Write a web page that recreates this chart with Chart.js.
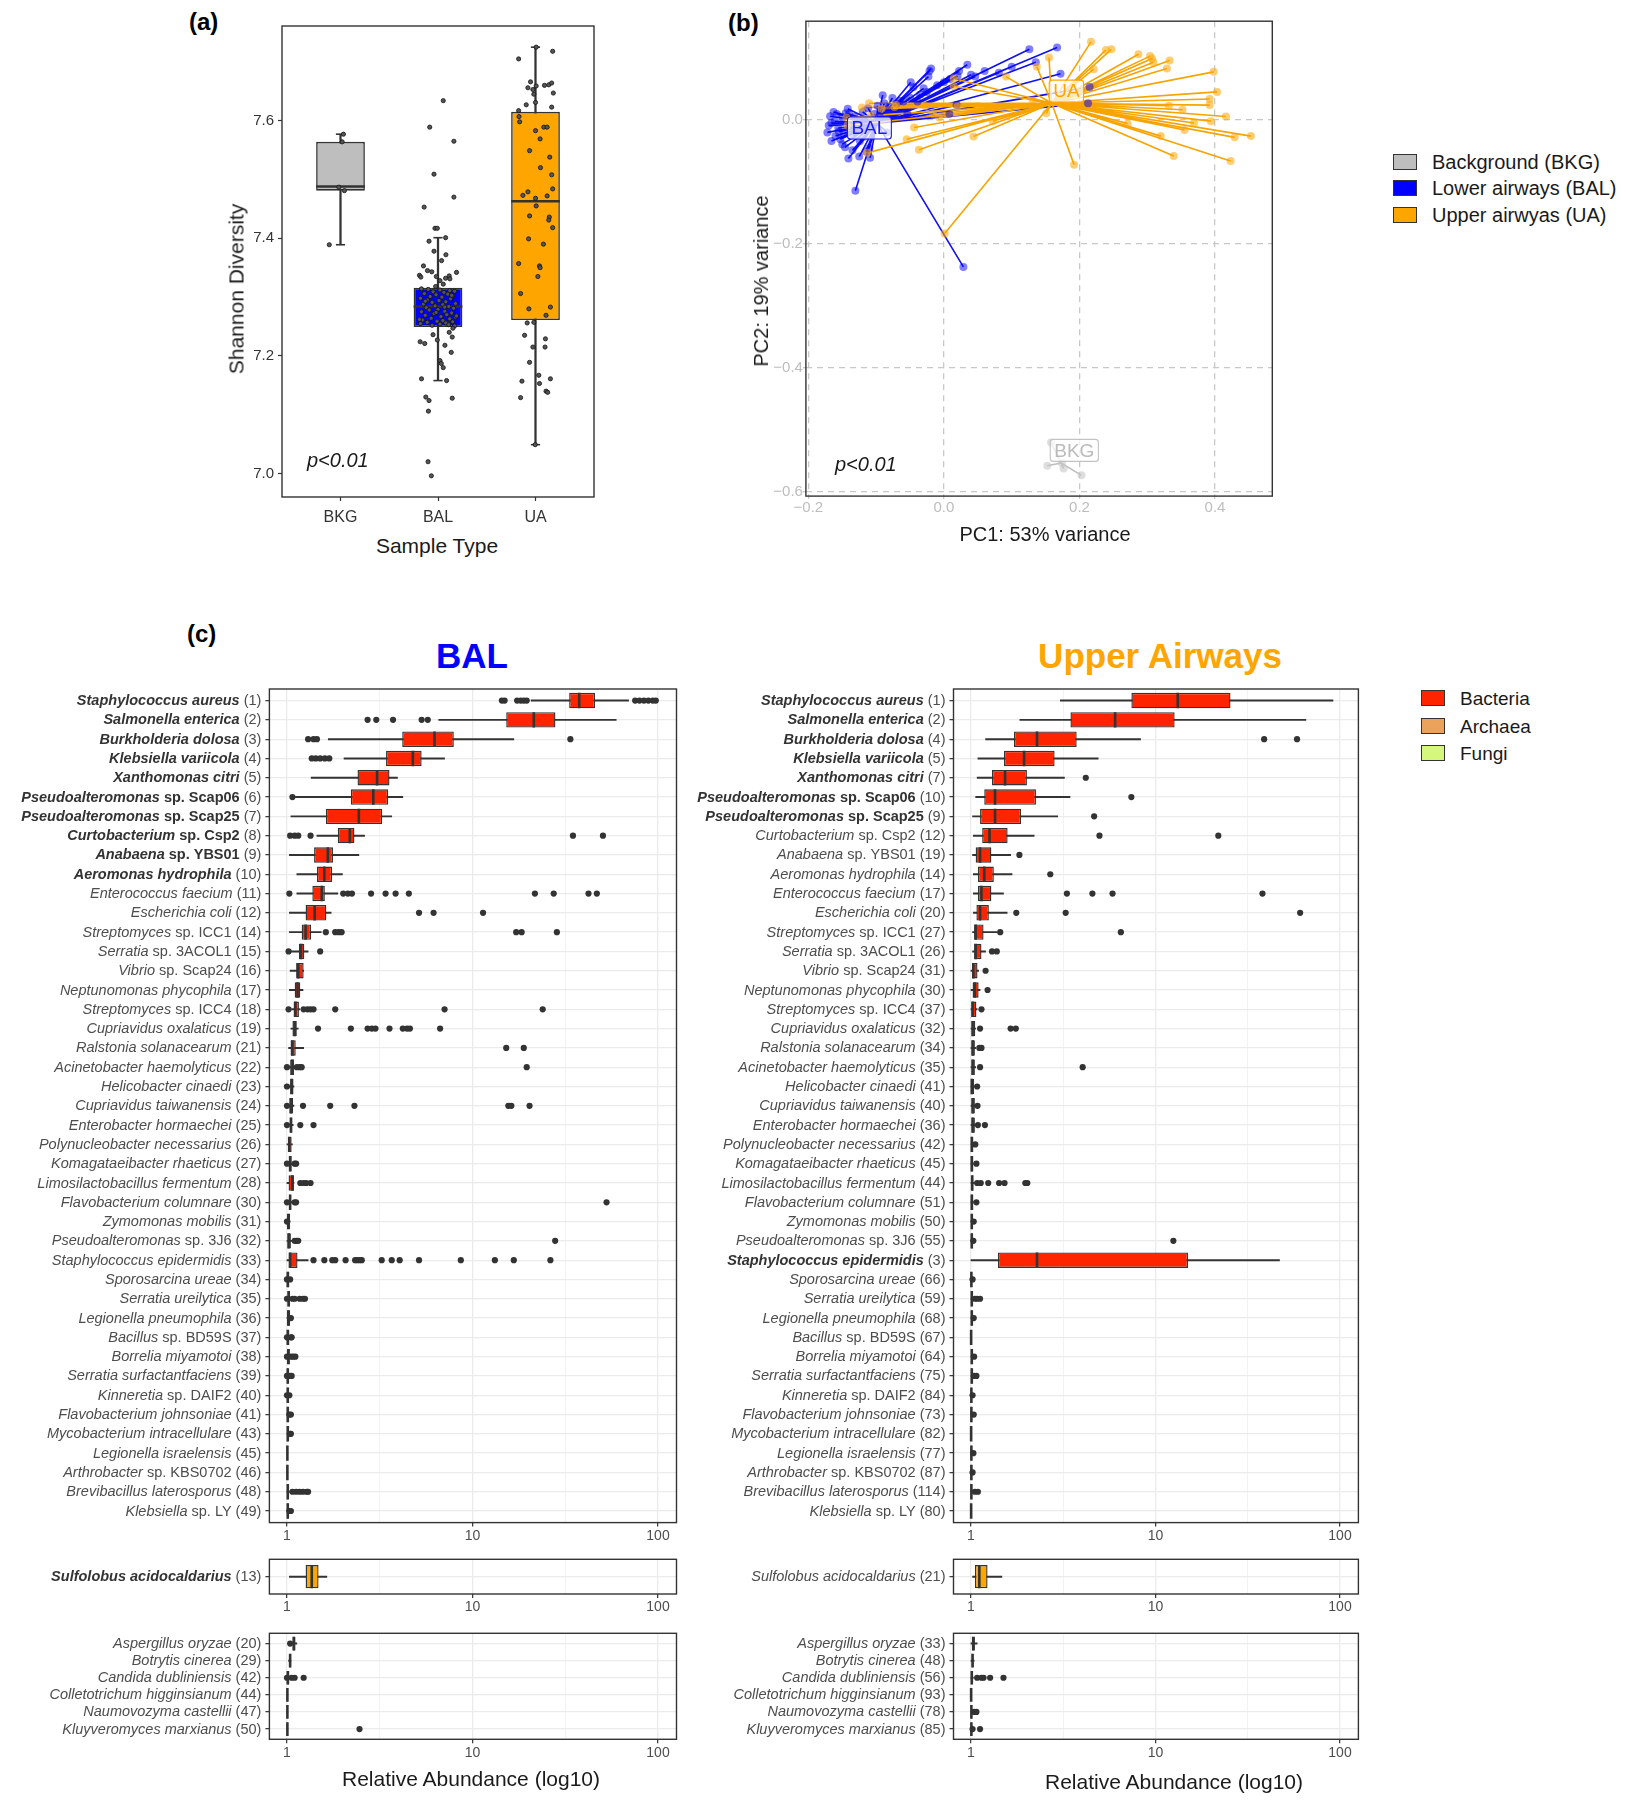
<!DOCTYPE html>
<html><head><meta charset="utf-8">
<script src="https://cdn.jsdelivr.net/npm/chart.js@4.4.1/dist/chart.umd.min.js"></script>
<style>
html,body{margin:0;padding:0;background:#fff;}
#root{position:relative;width:1626px;height:1800px;background:#fff;font-family:"Liberation Sans",Arial,sans-serif;overflow:hidden;}
#root canvas{position:absolute;}
.t{position:absolute;white-space:nowrap;color:#1a1a1a;line-height:1;}
.sq{position:absolute;border:1px solid #333;box-sizing:border-box;}
</style></head>
<body><div id="root"></div>
<script>
// ---------------- DATA ----------------
// Panel (a): Shannon diversity
const groupsA = ['BKG', 'BAL', 'UA'];
const boxA_q1  = [7.481, 7.249, 7.261];
const boxA_med = [7.488, 7.284, 7.463];
const boxA_q3  = [7.564, 7.316, 7.615];
const boxA_lo  = [7.389, 7.158, 7.049];
const boxA_hi  = [7.577, 7.401, 7.725];
const yTicksA = [7.0, 7.2, 7.4, 7.6];
const ptsBKG = [7.577, 7.564, 7.487, 7.481, 7.389];
const jitBKG = [0.03, 0.017, -0.017, 0.04, -0.115];
const ptsBAL = [7.634,7.589,7.565,7.509,7.470,7.453,7.417,7.417,7.401,7.395,7.378,7.372,7.362,7.353,7.345,7.343,7.342,7.337,7.334,7.335,7.332,7.336,7.331,7.328,7.322,7.318,
 7.314,7.313,7.312,7.311,7.310,7.309,7.308,7.306,7.305,7.304,7.302,7.301,7.300,7.298,7.297,7.295,7.294,7.292,7.291,7.289,7.288,7.287,7.285,7.284,7.282,7.281,7.279,7.278,7.276,7.275,7.273,7.272,7.270,7.269,7.267,7.266,7.264,7.263,7.261,7.260,7.259,7.258,7.257,7.256,7.255,7.254,7.253,7.252,7.251,7.262,7.268,7.274,7.283,7.293,7.303,
 7.247,7.240,7.236,7.232,7.227,7.224,7.221,7.218,7.206,7.192,7.187,7.180,7.161,7.158,7.130,7.124,7.128,7.106,7.020,6.996];
const jitBAL = [0.054,-0.085,0.163,-0.041,0.163,-0.142,-0.031,-0.007,0.078,-0.092,-0.041,0.081,0.037,-0.149,-0.108,-0.064,0.19,-0.19,-0.176,-0.017,0.078,0.115,0.122,0.02,0.054,-0.024,
 -0.17,-0.10,0.02,0.12,0.17,-0.05,0.06,-0.14,0.10,-0.02,0.15,-0.08,0.04,-0.18,0.13,-0.11,0.01,0.08,-0.06,0.18,-0.15,0.05,-0.03,0.11,-0.12,0.16,0.00,-0.09,0.07,-0.17,0.14,-0.04,0.09,-0.13,0.03,0.18,-0.07,0.12,-0.16,0.05,-0.01,0.15,-0.11,0.08,-0.18,0.02,0.11,-0.06,0.17,-0.19,0.19,-0.02,0.07,-0.13,0.14,
 0.153,0.115,-0.051,0.146,-0.007,-0.183,-0.136,0.071,0.136,0.02,0.034,0.054,-0.169,0.088,-0.125,-0.092,0.146,-0.098,-0.102,-0.068];
const ptsUA = [7.725,7.718,7.705,7.666,7.659,7.656,7.653,7.660,7.661,7.664,7.645,7.647,7.631,7.627,7.623,7.617,7.607,7.598,7.583,7.589,7.589,7.569,7.549,7.538,7.520,7.508,7.479,7.473,7.484,7.472,7.468,7.455,7.438,7.436,7.431,7.418,7.399,7.390,7.357,7.353,7.350,7.335,7.306,7.280,7.269,7.283,7.256,7.257,7.235,7.229,7.215,7.215,7.189,7.167,7.157,7.153,7.161,7.140,7.138,7.129,7.049];
const jitUA = [0.007,0.176,-0.173,-0.051,0.007,-0.078,-0.027,0.092,0.136,0.166,-0.017,0.183,0.0,-0.095,0.166,-0.173,-0.169,-0.163,0.0,0.085,0.119,0.047,-0.061,0.146,0.051,0.166,-0.078,-0.129,0.176,0.119,0.0,0.007,-0.061,0.142,0.136,0.176,-0.071,0.081,-0.173,0.041,0.047,0.024,-0.153,-0.068,0.108,0.153,-0.085,-0.017,-0.112,0.102,-0.027,0.098,-0.061,0.034,-0.139,0.041,0.153,0.108,0.125,-0.153,-0.003];

// Panel (b): PCA
const pcaBkgX = [0.158, 0.1525, 0.174, 0.1765, 0.203];
const pcaBkgY = [-0.521, -0.5585, -0.554, -0.563, -0.574];
const pcaBalX = [0.126,0.167,0.172,0.1355,0.0345,-0.019,-0.0213,-0.0229,0.0223,0.009,-0.049,-0.045,-0.0255,-0.0904,-0.076,-0.060,-0.054,0.008,-0.039,0.081,0.046,0.0287,-0.1307,-0.141,-0.109,-0.110,-0.146,-0.158,-0.172,-0.166,-0.156,-0.153,-0.150,-0.142,-0.140,-0.134,-0.124,-0.084,-0.092,-0.081,-0.1026,-0.116,-0.161,-0.166,-0.148,0.215,0.2126,0.0186,
 -0.168,-0.163,-0.155,-0.145,-0.138,-0.132,-0.128,-0.120,-0.118,-0.112,-0.098,-0.095,-0.088,-0.070,-0.065,-0.050,-0.035,-0.030,-0.010,0.000,0.020,0.040,0.060,0.100,-0.170,-0.160,-0.150,-0.135,-0.125,-0.115];
const pcaBalY = [0.113,0.116,0.0737,0.092,0.088,0.082,0.078,0.069,0.078,0.065,0.060,0.052,0.0443,0.039,0.0345,0.029,0.0086,0.0086,0.029,0.075,0.069,-0.238,-0.115,-0.063,-0.062,-0.046,-0.045,0.0086,-0.021,-0.006,-0.014,-0.032,0.003,0.017,0.0086,-0.026,-0.035,-0.021,0.014,0.020,0.0086,-0.003,-0.003,-0.035,-0.023,0.052,0.026,0.023,
 0.005,0.012,-0.020,0.010,-0.012,0.004,-0.018,0.012,-0.028,0.018,0.022,0.005,0.026,0.025,0.030,0.035,0.040,0.050,0.055,0.060,0.070,0.072,0.078,0.085,-0.010,-0.027,-0.040,-0.050,-0.060,-0.052];
const pcaUaX = [0.217,0.239,0.247,0.221,0.155,0.137,0.287,0.304,0.307,0.309,0.333,0.329,0.398,0.403,0.392,0.392,0.332,0.352,0.416,0.394,0.369,0.355,0.271,0.320,0.429,0.453,0.339,0.423,0.192,0.151,0.0914,0.072,0.0436,0.0144,0.0144,-0.007,-0.044,-0.055,-0.037,0.001,-0.113,-0.1105,-0.121,-0.092,-0.073,-0.0707,-0.108,-0.144,-0.1425,-0.028,-0.016,0.0197,0.0505,0.131];
const pcaUaY = [0.125,0.112,0.113,0.081,0.0996,0.085,0.105,0.102,0.098,0.092,0.095,0.082,0.0766,0.0443,0.0328,0.023,0.0219,0.0155,0.0046,-0.0029,-0.0058,-0.017,-0.0069,-0.027,-0.029,-0.027,-0.059,-0.067,-0.073,0.0098,0.069,-0.003,-0.0276,0.0535,0.066,0.003,-0.013,-0.032,-0.049,-0.184,-0.054,0.026,0.019,0.017,0.020,0.023,0.006,0.003,-0.0098,0.021,0.0086,0.020,0.021,0.0305];
const centroidBkg = [0.1727, -0.554];
const centroidBal = [-0.099, -0.006];
const centroidUa  = [0.159, 0.026];
const pcaLabelText = ['BKG', 'BAL', 'UA'];
const pcaLabelX = [0.1924, -0.110, 0.1807];
const pcaLabelY = [-0.5338, -0.0140, 0.0455];
const pcaTicksX = [-0.2, 0.0, 0.2, 0.4];
const pcaTicksY = [-0.6, -0.4, -0.2, 0.0];

// Panel (c): relative abundance
const xGridVals = [1, 3.1623, 10, 31.623, 100];
const xTickLabels = ['1', '', '10', '', '100'];
const bactNames = ['Staphylococcus aureus','Salmonella enterica','Burkholderia dolosa','Klebsiella variicola','Xanthomonas citri','Pseudoalteromonas sp. Scap06','Pseudoalteromonas sp. Scap25','Curtobacterium sp. Csp2','Anabaena sp. YBS01','Aeromonas hydrophila','Enterococcus faecium','Escherichia coli','Streptomyces sp. ICC1','Serratia sp. 3ACOL1','Vibrio sp. Scap24','Neptunomonas phycophila','Streptomyces sp. ICC4','Cupriavidus oxalaticus','Ralstonia solanacearum','Acinetobacter haemolyticus','Helicobacter cinaedi','Cupriavidus taiwanensis','Enterobacter hormaechei','Polynucleobacter necessarius','Komagataeibacter rhaeticus','Limosilactobacillus fermentum','Flavobacterium columnare','Zymomonas mobilis','Pseudoalteromonas sp. 3J6','Staphylococcus epidermidis','Sporosarcina ureae','Serratia ureilytica','Legionella pneumophila','Bacillus sp. BD59S','Borrelia miyamotoi','Serratia surfactantfaciens','Kinneretia sp. DAIF2','Flavobacterium johnsoniae','Mycobacterium intracellulare','Legionella israelensis','Arthrobacter sp. KBS0702','Brevibacillus laterosporus','Klebsiella sp. LY'];
const archNames = ['Sulfolobus acidocaldarius'];
const fungNames = ['Aspergillus oryzae','Botrytis cinerea','Candida dubliniensis','Colletotrichum higginsianum','Naumovozyma castellii','Kluyveromyces marxianus'];

const balBactRank = [1,2,3,4,5,6,7,8,9,10,11,12,14,15,16,17,18,19,21,22,23,24,25,26,27,28,30,31,32,33,34,35,36,37,38,39,40,41,43,45,46,48,49];
const uaBactRank  = [1,2,4,5,7,10,9,12,19,14,17,20,27,26,31,30,37,32,34,35,41,40,36,42,45,44,51,50,55,3,66,59,68,67,64,75,84,73,82,77,87,114,80];
const balBactBold = [0,1,2,3,4,5,6,7,8,9];
const uaBactBold  = [0,1,2,3,4,5,6,29];
const balArchRank = [13]; const uaArchRank = [21];
const balArchBold = [0];  const uaArchBold = [];
const balFungRank = [20,29,42,44,47,50];
const uaFungRank  = [33,48,56,93,78,85];

const balBactQ1  = [33.2,15.2,4.18,3.42,2.40,2.21,1.62,1.88,1.40,1.45,1.37,1.26,1.20,1.16,1.12,1.10,1.085,1.07,1.045,1.04,1.04,1.03,1.04,1.01,1.03,1.02,1.03,1.0,1.01,1.02,1.0,1.01,1.0,1.0,1.0,1.0,1.0,1.0,1.0,1.0,1.0,1.0,1.0];
const balBactMed = [37.6,21.4,6.24,4.77,3.06,2.92,2.44,2.18,1.66,1.59,1.54,1.41,1.26,1.19,1.15,1.14,1.11,1.10,1.07,1.07,1.06,1.05,1.05,1.03,1.04,1.07,1.04,1.02,1.02,1.04,1.01,1.02,1.02,1.01,1.02,1.01,1.01,1.01,1.01,1.005,1.005,1.01,1.01];
const balBactQ3  = [45.8,28.0,7.93,5.32,3.57,3.51,3.26,2.31,1.77,1.75,1.60,1.63,1.35,1.24,1.23,1.18,1.16,1.13,1.115,1.09,1.085,1.08,1.07,1.06,1.06,1.09,1.05,1.04,1.05,1.14,1.03,1.04,1.04,1.03,1.03,1.02,1.02,1.02,1.02,1.01,1.01,1.02,1.02];
const balBactLo  = [20.7,6.58,1.67,2.03,1.35,1.11,1.05,1.45,1.03,1.13,1.13,1.03,1.03,1.04,1.04,1.03,1.06,1.05,1.02,1.0,1.02,1.02,1.02,1.0,1.0,1.0,1.0,1.0,1.0,1.0,1.0,1.0,1.0,1.0,1.0,1.0,1.0,1.0,1.0,1.0,1.0,1.0,1.0];
const balBactHi  = [69.4,59.5,16.7,7.07,3.94,4.21,3.67,2.62,2.44,1.99,1.88,1.73,1.53,1.30,1.23,1.22,1.17,1.15,1.23,1.10,1.09,1.09,1.08,1.07,1.07,1.09,1.06,1.04,1.06,1.30,1.03,1.05,1.04,1.03,1.04,1.03,1.02,1.02,1.02,1.01,1.01,1.03,1.02];
const balBactOut = [[14.4,14.9,17.4,18.2,18.9,19.6,75.3,79.5,84,88.7,93.7,97.3],[2.72,3.03,3.73,5.32,5.74],[1.30,1.39,1.45,33.7],[1.36,1.43,1.51,1.60,1.69],[],[1.07],[],[1.04,1.10,1.15,1.34,34.8,50.5],[],[],
 [1.03,2.01,2.13,2.24,2.84,3.40,3.85,4.54,21.7,27.4,42.2,46.8],[5.15,6.17,11.4],[1.62,1.82,1.90,1.97,17.2,18.4,28.5],[1.02,1.51],[],[],[1.02,1.23,1.29,1.34,1.39,1.82,7.07,23.9],[1.47,2.21,2.72,2.87,3.0,3.57,4.21,4.44,4.6,6.69],[15.2,18.9],[1.0,1.13,1.17,1.20,19.6],
 [1.0],[1.0,1.22,1.71,2.31,15.6,16.2,20.3],[1.0,1.18,1.39],[],[1.0,1.10,1.12],[1.18,1.23,1.27,1.34],[1.0,1.10,1.12,52.8],[1.0],[1.10,1.13,1.15,27.9],[1.39,1.59,1.755,1.82,2.07,2.33,2.39,2.46,2.53,3.24,3.67,4.05,5.15,8.65,13.2,16.7,26.3],
 [1.0,1.04],[1.0,1.07,1.10,1.17,1.22,1.25],[1.05],[1.0,1.05,1.06],[1.0,1.05,1.08,1.11],[1.0,1.04,1.06],[1.0,1.03],[1.03,1.05],[1.04,1.05],[],[],[1.07,1.12,1.17,1.22,1.28,1.30],[1.03,1.05]];

const uaBactQ1  = [7.40,3.46,1.71,1.51,1.30,1.18,1.12,1.15,1.06,1.09,1.09,1.07,1.04,1.04,1.015,1.02,1.005,1.01,1.01,1.01,1.005,1.01,1.01,1.0,1.0,1.01,1.0,1.0,1.0,1.40,1.0,1.0,1.0,1.0,1.0,1.0,1.0,1.0,1.0,1.0,1.0,1.0,1.0];
const uaBactMed = [13.2,6.04,2.28,1.94,1.53,1.35,1.35,1.26,1.12,1.18,1.14,1.12,1.06,1.06,1.03,1.05,1.02,1.02,1.02,1.02,1.01,1.02,1.02,1.01,1.01,1.015,1.01,1.01,1.01,2.28,1.005,1.01,1.01,1.002,1.01,1.01,1.005,1.005,1.002,1.005,1.005,1.005,1.002];
const uaBactQ3  = [25.5,12.7,3.74,2.84,2.01,2.25,1.87,1.58,1.29,1.33,1.29,1.25,1.17,1.14,1.085,1.10,1.07,1.055,1.05,1.05,1.04,1.05,1.05,1.03,1.03,1.03,1.03,1.02,1.02,15.0,1.01,1.02,1.02,1.005,1.02,1.02,1.01,1.01,1.005,1.01,1.01,1.01,1.005];
const uaBactLo  = [3.05,1.84,1.20,1.09,1.08,1.06,1.02,1.03,1.02,1.03,1.03,1.03,1.02,1.02,1.0,1.0,1.0,1.0,1.0,1.0,1.0,1.0,1.0,1.0,1.0,1.0,1.0,1.0,1.0,1.0,1.0,1.0,1.0,1.0,1.0,1.0,1.0,1.0,1.0,1.0,1.0,1.0,1.0];
const uaBactHi  = [91.6,65.3,8.30,4.89,3.21,3.44,2.95,2.20,1.64,1.67,1.50,1.57,1.38,1.20,1.10,1.12,1.08,1.06,1.06,1.06,1.04,1.05,1.05,1.03,1.03,1.04,1.03,1.02,1.02,47.0,1.01,1.02,1.02,1.005,1.02,1.02,1.01,1.01,1.005,1.01,1.01,1.02,1.005];
const uaBactOut = [[],[],[38.8,58.5],[],[4.19],[7.40],[4.65],[4.97,21.9],[1.83],[2.69],
 [3.31,4.55,5.85,38.0],[1.76,3.26,60.8],[1.44,6.49],[1.30,1.38],[1.20],[1.23],[1.14],[1.12,1.64,1.75],[1.11,1.14],[1.12,4.03],
 [1.08],[1.085],[1.09,1.19],[1.055],[1.07],[1.08,1.13,1.24,1.42,1.52,1.97,2.02],[1.07],[1.035],[1.03,12.5],[],
 [1.02],[1.05,1.08,1.12],[1.035],[],[1.04],[1.04,1.07],[1.02],[1.035],[],[1.03],[1.02],[1.05,1.09],[]];

const balArchQ1 = [1.26], balArchMed = [1.36], balArchQ3 = [1.48], balArchLo = [1.03], balArchHi = [1.64], balArchOut = [[]];
const uaArchQ1  = [1.05], uaArchMed  = [1.11], uaArchQ3  = [1.23], uaArchLo  = [1.02], uaArchHi  = [1.47], uaArchOut  = [[]];

const balFungQ1  = [1.07,1.03,1.0,1.0,1.0,1.0];
const balFungMed = [1.09,1.04,1.01,1.005,1.005,1.005];
const balFungQ3  = [1.11,1.05,1.03,1.01,1.01,1.01];
const balFungLo  = [1.05,1.02,1.0,1.0,1.0,1.0];
const balFungHi  = [1.13,1.05,1.04,1.01,1.01,1.01];
const balFungOut = [[1.04],[],[1.0,1.06,1.10,1.23],[],[],[2.46]];
const uaFungQ1  = [1.01,1.01,1.0,1.0,1.0,1.0];
const uaFungMed = [1.03,1.02,1.01,1.002,1.005,1.005];
const uaFungQ3  = [1.05,1.03,1.02,1.005,1.01,1.01];
const uaFungLo  = [1.0,1.0,1.0,1.0,1.0,1.0];
const uaFungHi  = [1.08,1.04,1.03,1.005,1.01,1.01];
const uaFungOut = [[],[],[1.08,1.14,1.17,1.27,1.50],[],[1.04,1.07],[1.02,1.12]];

// ---------------- RENDER ----------------
const FAM = '"Liberation Sans", Arial, sans-serif';
Chart.defaults.font.family = FAM;
const root = document.getElementById('root');

function mkCanvas(left, top, w, h) {
  const c = document.createElement('canvas');
  c.width = w; c.height = h;
  c.style.left = left + 'px'; c.style.top = top + 'px';
  c.style.width = w + 'px'; c.style.height = h + 'px';
  root.appendChild(c);
  return c;
}
function txt(s, x, y, css, anchor) {
  const d = document.createElement('div');
  d.className = 't';
  d.textContent = s;
  d.style.cssText += css;
  d.style.left = x + 'px'; d.style.top = y + 'px';
  d.style.transform = anchor === 'left' ? 'translate(0,-50%)' : (anchor === 'rot' ? 'translate(-50%,-50%) rotate(-90deg)' : 'translate(-50%,-50%)');
  root.appendChild(d);
  return d;
}
function sq(x, y, w, h, color) {
  const d = document.createElement('div');
  d.className = 'sq';
  d.style.left = x + 'px'; d.style.top = y + 'px'; d.style.width = w + 'px'; d.style.height = h + 'px';
  d.style.background = color;
  root.appendChild(d);
}
const framePlugin = {
  id: 'frame',
  afterDatasetsDraw(chart) {
    const { ctx, chartArea: a } = chart;
    ctx.save();
    ctx.strokeStyle = '#333333'; ctx.lineWidth = 1.4;
    ctx.strokeRect(a.left, a.top, a.right - a.left, a.bottom - a.top);
    ctx.restore();
  }
};

// ---- Panel (a)
(function () {
  const c = mkCanvas(240, 0, 370, 530);
  const cats = [1, 2, 3];
  const jit = [];
  ptsBKG.forEach((v, i) => jit.push({ x: 1 + jitBKG[i], y: v }));
  ptsBAL.forEach((v, i) => jit.push({ x: 2 + jitBAL[i], y: v }));
  ptsUA.forEach((v, i) => jit.push({ x: 3 + jitUA[i], y: v }));
  const caps = [];
  cats.forEach((cx, i) => { caps.push({ x: cx, y: boxA_lo[i] }); caps.push({ x: cx, y: boxA_hi[i] }); });
  new Chart(c, {
    type: 'bar',
    data: { datasets: [
      { type: 'bar', order: 5, grouped: false, data: cats.map((cx, i) => ({ x: cx, y: [boxA_lo[i], boxA_hi[i]] })), backgroundColor: '#333333', borderWidth: 0, barThickness: 1.6 },
      { type: 'scatter', order: 4, data: caps, pointStyle: 'line', pointRadius: 4.6, pointBorderColor: '#333333', pointBorderWidth: 1.6 },
      { type: 'bar', order: 3, grouped: false, data: cats.map((cx, i) => ({ x: cx, y: [boxA_q1[i], boxA_q3[i]] })), backgroundColor: ['#bebebe', '#0000ff', '#ffa500'], borderColor: '#333333', borderWidth: 1.6, borderSkipped: false, barPercentage: 0.5, categoryPercentage: 1 },
      { type: 'scatter', order: 2, data: cats.map((cx, i) => ({ x: cx, y: boxA_med[i] })), pointStyle: 'line', pointBorderColor: '#333333', pointBorderWidth: 2.6,
        pointRadius: (ctx) => { const s = ctx.chart.scales.x; return Math.abs(s.getPixelForValue(1.25) - s.getPixelForValue(1)); } },
      { type: 'scatter', order: 1, data: jit, pointRadius: 2.1, pointBackgroundColor: '#555555', pointBorderColor: '#111111', pointBorderWidth: 0.8 }
    ]},
    options: {
      responsive: false, animation: false, events: [],
      layout: { padding: { top: 26, right: 16, left: 0, bottom: 0 } },
      plugins: { legend: { display: false }, tooltip: { enabled: false } },
      scales: {
        x: { type: 'linear', min: 0.4, max: 3.6, offset: false,
          afterBuildTicks: (s) => { s.ticks = cats.map(v => ({ value: v })); },
          afterFit: (s) => { s.height = 33; },
          ticks: { autoSkip: false, maxRotation: 0, padding: 7, color: '#333333', font: { size: 16 }, callback: (v) => groupsA[v - 1] },
          grid: { drawOnChartArea: false, offset: false, tickLength: 4, tickWidth: 1.2, tickColor: '#333333' },
          border: { display: false } },
        y: { type: 'linear', min: 6.96, max: 7.761,
          afterBuildTicks: (s) => { s.ticks = yTicksA.map(v => ({ value: v })); },
          afterFit: (s) => { s.width = 42; },
          ticks: { autoSkip: false, padding: 4, color: '#333333', font: { size: 15 }, callback: (v) => v.toFixed(1) },
          grid: { drawOnChartArea: false, tickLength: 4, tickWidth: 1.2, tickColor: '#333333' },
          border: { display: false } }
      }
    },
    plugins: [framePlugin]
  });
})();

// ---- Panel (b)
(function () {
  const c = mkCanvas(760, 0, 530, 530);
  const segs = (X, Y, cen) => { const d = []; X.forEach((x, i) => { d.push({ x: x, y: Y[i] }, { x: cen[0], y: cen[1] }, { x: cen[0], y: null }); }); return d; };
  const pts = (X, Y) => X.map((x, i) => ({ x: x, y: Y[i] }));
  const fmt = (v) => (Math.abs(v) < 1e-9 ? '0.0' : (v < 0 ? '\u2212' : '') + Math.abs(v).toFixed(1));
  const labelPlugin = {
    id: 'pcaLabels',
    afterDatasetsDraw(chart) {
      const { ctx } = chart; const sx = chart.scales.x, sy = chart.scales.y;
      const txtCol = ['rgba(175,175,175,0.85)', '#1a1aff', '#ffa500'];
      const brd = ['rgba(185,185,185,0.85)', '#1a1aff', '#ffa500'];
      ctx.save();
      ctx.font = '19px ' + FAM; ctx.textAlign = 'center'; ctx.textBaseline = 'middle';
      pcaLabelText.forEach((t, i) => {
        const px = sx.getPixelForValue(pcaLabelX[i]), py = sy.getPixelForValue(pcaLabelY[i]);
        const w = ctx.measureText(t).width + 8, h = 22;
        ctx.beginPath();
        if (ctx.roundRect) ctx.roundRect(px - w / 2, py - h / 2, w, h, 3); else ctx.rect(px - w / 2, py - h / 2, w, h);
        ctx.fillStyle = 'rgba(255,255,255,0.75)'; ctx.fill();
        ctx.strokeStyle = brd[i]; ctx.lineWidth = 1.1; ctx.stroke();
        ctx.fillStyle = txtCol[i]; ctx.fillText(t, px, py + 1);
      });
      ctx.restore();
    }
  };
  new Chart(c, {
    type: 'scatter',
    data: { datasets: [
      { order: 10, showLine: true, data: segs(pcaBkgX, pcaBkgY, centroidBkg), borderColor: '#bdbdbd', borderWidth: 1.6, pointRadius: 0, spanGaps: false },
      { order: 9, showLine: true, data: segs(pcaBalX, pcaBalY, centroidBal), borderColor: '#1010f0', borderWidth: 1.6, pointRadius: 0, spanGaps: false },
      { order: 8, showLine: true, data: segs(pcaUaX, pcaUaY, centroidUa), borderColor: '#f7a300', borderWidth: 1.6, pointRadius: 0, spanGaps: false },
      { order: 3, data: pts(pcaBkgX, pcaBkgY), pointRadius: 4, pointBackgroundColor: 'rgba(200,200,200,0.6)', pointBorderWidth: 0 },
      { order: 2, data: pts(pcaBalX, pcaBalY), pointRadius: 4, pointBackgroundColor: 'rgba(0,0,255,0.5)', pointBorderWidth: 0 },
      { order: 1, data: pts(pcaUaX, pcaUaY), pointRadius: 4, pointBackgroundColor: 'rgba(255,165,0,0.55)', pointBorderWidth: 0 }
    ]},
    options: {
      responsive: false, animation: false, events: [],
      layout: { padding: { top: 21.2, right: 17.7, left: 0, bottom: 0 } },
      plugins: { legend: { display: false }, tooltip: { enabled: false } },
      scales: {
        x: { type: 'linear', min: -0.2037, max: 0.4845,
          afterBuildTicks: (s) => { s.ticks = pcaTicksX.map(v => ({ value: v })); },
          afterFit: (s) => { s.height = 33.9; },
          ticks: { autoSkip: false, maxRotation: 0, padding: 0, color: '#bdbdbd', font: { size: 15 }, callback: fmt },
          grid: { color: '#c8c8c8', lineWidth: 1.3, tickLength: 3, tickColor: '#c8c8c8' },
          border: { display: false, dash: [6, 5] } },
        y: { type: 'linear', min: -0.6075, max: 0.1583,
          afterBuildTicks: (s) => { s.ticks = pcaTicksY.map(v => ({ value: v })); },
          afterFit: (s) => { s.width = 45.9; },
          ticks: { autoSkip: false, padding: 0, color: '#bdbdbd', font: { size: 15 }, callback: fmt },
          grid: { color: '#c8c8c8', lineWidth: 1.3, tickLength: 3, tickColor: '#c8c8c8' },
          border: { display: false, dash: [6, 5] } }
      }
    },
    plugins: [framePlugin, labelPlugin]
  });
})();

// ---- Panel (c)
function splitLabel(name, rank, bold) {
  const parts = [];
  const k = name.indexOf(' sp. ');
  const w = bold ? 'bold ' : '';
  const col = bold ? '#333333' : '#4d4d4d';
  if (k >= 0) {
    parts.push({ t: name.slice(0, k), f: 'italic ' + w + '14.5px ' + FAM, c: col });
    parts.push({ t: name.slice(k), f: w + '14.5px ' + FAM, c: col });
  } else {
    parts.push({ t: name, f: 'italic ' + w + '14.5px ' + FAM, c: col });
  }
  parts.push({ t: ' (' + rank + ')', f: '14.5px ' + FAM, c: '#4d4d4d' });
  return parts;
}
function rowLabelPlugin(labels) {
  return {
    id: 'rowLabels',
    afterDraw(chart) {
      const ctx = chart.ctx, ys = chart.scales.y, x0 = chart.chartArea.left - 8;
      ctx.save();
      ctx.textBaseline = 'middle'; ctx.textAlign = 'left';
      labels.forEach((pp, i) => {
        const y = ys.getPixelForValue(i + 1);
        let total = 0;
        pp.forEach(p => { ctx.font = p.f; p.w = ctx.measureText(p.t).width; total += p.w; });
        let x = x0 - total;
        pp.forEach(p => { ctx.font = p.f; ctx.fillStyle = p.c; ctx.fillText(p.t, x, y + 0.5); x += p.w; });
      });
      ctx.restore();
    }
  };
}
const isMajor = (t) => t && (t.value === 1 || t.value === 10 || t.value === 100);

function boxChart(o) {
  const c = mkCanvas(o.left, o.top, o.w, o.h);
  const n = o.names.length;
  const rows = o.names.map((_, i) => i + 1);
  const outPts = [];
  o.outs.forEach((arr, i) => arr.forEach(v => outPts.push({ x: v, y: i + 1 })));
  const labels = o.names.map((nm, i) => splitLabel(nm, o.ranks[i], o.bold.indexOf(i) >= 0));
  new Chart(c, {
    type: 'bar',
    data: { datasets: [
      { type: 'bar', indexAxis: 'y', grouped: false, order: 4, data: rows.map((r, i) => ({ y: r, x: [o.lo[i], o.hi[i]] })),
        backgroundColor: '#333333', borderWidth: 0, barThickness: 1.3 },
      { type: 'bar', indexAxis: 'y', grouped: false, order: 3, data: rows.map((r, i) => ({ y: r, x: [o.q1[i], o.q3[i]] })),
        backgroundColor: o.fill, borderColor: '#333333', borderWidth: 1.4, borderSkipped: false, barPercentage: o.barPct, categoryPercentage: 1 },
      { type: 'scatter', order: 2, data: rows.map((r, i) => ({ x: o.med[i], y: r })), pointStyle: 'line', pointRotation: 90,
        pointBorderColor: '#333333', pointBorderWidth: 2.6,
        pointRadius: (ctx) => { const s = ctx.chart.scales.y; return Math.abs(s.getPixelForValue(1.4) - s.getPixelForValue(1)); } },
      { type: 'scatter', order: 1, data: outPts, pointRadius: 3.1, pointBackgroundColor: '#333333', pointBorderWidth: 0 }
    ]},
    options: {
      responsive: false, animation: false, events: [],
      layout: { padding: { top: o.padTop, right: o.padRight, left: 0, bottom: 0 } },
      plugins: { legend: { display: false }, tooltip: { enabled: false } },
      scales: {
        x: { type: 'logarithmic', position: 'bottom', min: 0.804, max: 125.8, offset: false,
          afterBuildTicks: (s) => { s.ticks = xGridVals.map(v => ({ value: v })); },
          afterFit: (s) => { s.height = o.axisH; },
          ticks: { autoSkip: false, maxRotation: 0, padding: 1, color: '#4d4d4d', font: { size: 14 },
            callback: (v) => { const k = xGridVals.indexOf(v); return k >= 0 ? xTickLabels[k] : ''; } },
          grid: { color: '#ebebeb', offset: false, lineWidth: (ctx) => (isMajor(ctx.tick) ? 1.3 : 0.6), tickLength: 4, tickWidth: 1.2,
            tickColor: (ctx) => (isMajor(ctx.tick) ? '#333333' : 'rgba(0,0,0,0)') },
          border: { display: false } },
        y: { type: 'linear', position: 'left', reverse: true, min: 0.4, max: n + 0.6, offset: false,
          afterBuildTicks: (s) => { s.ticks = rows.map(v => ({ value: v })); },
          afterFit: (s) => { s.width = o.axisW; },
          ticks: { display: false },
          grid: { color: '#ebebeb', offset: false, lineWidth: 1.3, tickLength: 4, tickWidth: 1.2, tickColor: '#333333' },
          border: { display: false } }
      }
    },
    plugins: [framePlugin, rowLabelPlugin(labels)]
  });
}

const RED = '#ff2400', ORG = '#ffa500';
// BAL column
boxChart({ left: 0, top: 680, w: 690, h: 870, padTop: 9, padRight: 13.5, axisW: 269.4, axisH: 27.4, barPct: 0.8,
  names: bactNames, ranks: balBactRank, bold: balBactBold, q1: balBactQ1, med: balBactMed, q3: balBactQ3, lo: balBactLo, hi: balBactHi, outs: balBactOut, fill: RED });
boxChart({ left: 0, top: 1550, w: 690, h: 70, padTop: 9.3, padRight: 13.5, axisW: 269.4, axisH: 26, barPct: 0.667,
  names: archNames, ranks: balArchRank, bold: balArchBold, q1: balArchQ1, med: balArchMed, q3: balArchQ3, lo: balArchLo, hi: balArchHi, outs: balArchOut, fill: ORG });
boxChart({ left: 0, top: 1620, w: 690, h: 150, padTop: 13.3, padRight: 13.5, axisW: 269.4, axisH: 30.7, barPct: 0.8,
  names: fungNames, ranks: balFungRank, bold: [], q1: balFungQ1, med: balFungMed, q3: balFungQ3, lo: balFungLo, hi: balFungHi, outs: balFungOut, fill: '#d5f77b' });
// UA column
boxChart({ left: 690, top: 680, w: 690, h: 870, padTop: 9, padRight: 21.6, axisW: 263.5, axisH: 27.4, barPct: 0.8,
  names: bactNames, ranks: uaBactRank, bold: uaBactBold, q1: uaBactQ1, med: uaBactMed, q3: uaBactQ3, lo: uaBactLo, hi: uaBactHi, outs: uaBactOut, fill: RED });
boxChart({ left: 690, top: 1550, w: 690, h: 70, padTop: 9.3, padRight: 21.6, axisW: 263.5, axisH: 26, barPct: 0.667,
  names: archNames, ranks: uaArchRank, bold: uaArchBold, q1: uaArchQ1, med: uaArchMed, q3: uaArchQ3, lo: uaArchLo, hi: uaArchHi, outs: uaArchOut, fill: ORG });
boxChart({ left: 690, top: 1620, w: 690, h: 150, padTop: 13.3, padRight: 21.6, axisW: 263.5, axisH: 30.7, barPct: 0.8,
  names: fungNames, ranks: uaFungRank, bold: [], q1: uaFungQ1, med: uaFungMed, q3: uaFungQ3, lo: uaFungLo, hi: uaFungHi, outs: uaFungOut, fill: '#d5f77b' });

// ---- Text & legends
txt('(a)', 189, 22, 'font-size:24px;font-weight:bold;color:#000;', 'left');
txt('(b)', 728, 23, 'font-size:24px;font-weight:bold;color:#000;', 'left');
txt('(c)', 187, 634, 'font-size:24px;font-weight:bold;color:#000;', 'left');
txt('Shannon Diversity', 236, 289, 'font-size:21px;', 'rot');
txt('Sample Type', 437, 545, 'font-size:21px;');
txt('p<0.01', 307, 460, 'font-size:20px;font-style:italic;', 'left');
txt('PC2: 19% variance', 761, 281, 'font-size:20px;', 'rot');
txt('PC1: 53% variance', 1045, 534, 'font-size:20px;');
txt('p<0.01', 835, 464, 'font-size:20px;font-style:italic;', 'left');
txt('BAL', 472, 655, 'font-size:35px;font-weight:bold;color:#0000ff;');
txt('Upper Airways', 1160, 655, 'font-size:35px;font-weight:bold;color:#ffa500;');
txt('Relative Abundance (log10)', 471, 1778, 'font-size:21px;');
txt('Relative Abundance (log10)', 1174, 1781, 'font-size:21px;');

const legB = [['Background (BKG)', '#bebebe'], ['Lower airways (BAL)', '#0000ff'], ['Upper airwyas (UA)', '#ffa500']];
const legBy = [161.7, 188.3, 215];
legB.forEach((e, i) => { sq(1393, legBy[i] - 8, 24, 16, e[1]); txt(e[0], 1432, legBy[i], 'font-size:20px;', 'left'); });
const legC = [['Bacteria', '#ff2400'], ['Archaea', '#eba35b'], ['Fungi', '#d5f77b']];
const legCy = [698, 725.5, 753];
legC.forEach((e, i) => { sq(1421, legCy[i] - 8, 24, 16, e[1]); txt(e[0], 1460, legCy[i], 'font-size:19px;', 'left'); });
</script>
</body></html>
